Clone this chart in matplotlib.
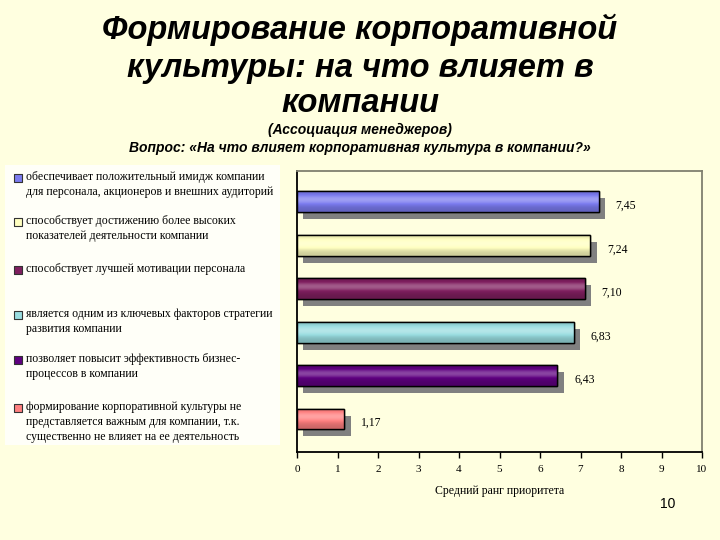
#!/usr/bin/env python3

import matplotlib as mpl
mpl.use("Agg")
import matplotlib.pyplot as plt
import matplotlib.colors as mcolors
import numpy as np


labels = [
    "обеспечивает положительный имидж компании\nдля персонала, акционеров и внешних аудиторий",
    "способствует достижению более высоких\nпоказателей деятельности компании",
    "способствует лучшей мотивации персонала",
    "является одним из ключевых факторов стратегии\nразвития компании",
    "позволяет повысит эффективность бизнес-\nпроцессов в компании",
    "формирование корпоративной культуры не\nпредставляется важным для компании, т.к.\nсущественно не влияет на ее деятельность",
]
values = [7.45, 7.24, 7.10, 6.83, 6.43, 1.17]
colors = ["#7b7bef", "#ffffc0", "#7f1f5f", "#99dde0", "#5f0080", "#ff8080"]
ticks = list(range(0, 11))

bg = "#ffffe0"
serif = ["Liberation Serif", "DejaVu Serif"]
sans = ["Liberation Sans", "DejaVu Sans"]

fig = plt.figure(figsize=(7.2, 5.4), dpi=100, facecolor=bg)

# titles
for txt, ty in [("Формирование корпоративной", 30),
                ("культуры: на что влияет в", 68),
                ("компании", 103)]:
    fig.text(0.5, 1 - ty / 540, txt, ha="center", va="center",
             fontsize=23.5, fontweight="bold", style="italic", family=sans)
fig.text(0.5, 1 - 130 / 540, "(Ассоциация менеджеров)", ha="center", va="center",
         fontsize=10, fontweight="bold", style="italic", family=sans)
fig.text(0.5, 1 - 148 / 540, "Вопрос: «На что влияет корпоративная культура в компании?»",
         ha="center", va="center", fontsize=10, fontweight="bold", style="italic", family=sans)

# main chart
ax = fig.add_axes([297 / 720, 1 - 452 / 540, 405 / 720, 281 / 540])
ax.set_facecolor(bg)
y = np.arange(len(values))
h = 0.48
dx, dy = 0.16, 0.16

ax.barh(y + dy, values, left=dx, height=h, color="#808080", zorder=1)
bars = ax.barh(y, values, height=h, color=colors, edgecolor="black", linewidth=1, zorder=2)

# vertical gradient: darker edges, light band a bit above the middle
prof = np.linspace(0, 1, 64)
shade = 0.55 + 0.75 * np.exp(-((prof - 0.4) / 0.3) ** 2)
for b, c, v, yi in zip(bars, colors, values, y):
    rgb = np.array(mcolors.to_rgb(c))
    light = np.clip(rgb + (1 - rgb) * np.clip(shade - 1, 0, 1)[:, None] * 0.9, 0, 1)
    dark = np.clip(rgb[None, :] * (0.55 + 0.45 * shade[:, None]), 0, 1)
    img = np.where((shade > 1)[:, None], light, dark)
    im = ax.imshow(img[:, None, :], extent=(0, v, yi + h / 2, yi - h / 2),
                   aspect="auto", zorder=2.5, interpolation="bilinear")
    im.set_clip_path(b)
    ax.barh(yi, v, height=h, fill=False, edgecolor="black", linewidth=1, zorder=3)
    ax.annotate(f"{v:.2f}".replace(".", ","), (v, yi), xytext=(12, -3),
                textcoords="offset points", ha="left", va="center",
                fontsize=8.5, family=serif)

ax.set_xlim(0, 10)
ax.set_ylim(5.76, -0.71)
ax.set_xticks(ticks)
ax.set_xticklabels([str(t) for t in ticks], fontsize=8, family=serif)
ax.set_yticks([])
ax.tick_params(axis="x", direction="out", length=4, width=1, color="black", pad=5)
ax.spines["left"].set_color("black")
ax.spines["bottom"].set_color("black")
ax.spines["top"].set_color("#808070")
ax.spines["right"].set_color("#808070")
for s in ax.spines.values():
    s.set_linewidth(1.3)
ax.set_xlabel("Средний ранг приоритета", fontsize=8.5, family=serif, labelpad=8)

# legend box on the left
lg = fig.add_axes([5 / 720, 1 - 445 / 540, 275 / 720, 280 / 540])
lg.set_xlim(0, 275)
lg.set_ylim(445, 165)
lg.set_facecolor("#fffff8")
lg.set_xticks([])
lg.set_yticks([])
for s in lg.spines.values():
    s.set_visible(False)
entry_y = [178, 222, 270, 315, 360, 408]
for lab, c, ey in zip(labels, colors, entry_y):
    lg.scatter([13], [ey], marker="s", s=30, color=c, edgecolor="#333333", linewidth=0.8)
    lg.text(21, ey - 7, lab, ha="left", va="top", fontsize=8.5, family=serif,
            linespacing=1.35)

fig.text(668 / 720, 1 - 504 / 540, "10", ha="center", va="center", fontsize=10, family=sans)

fig.savefig("out.png", dpi=100, facecolor=bg)
